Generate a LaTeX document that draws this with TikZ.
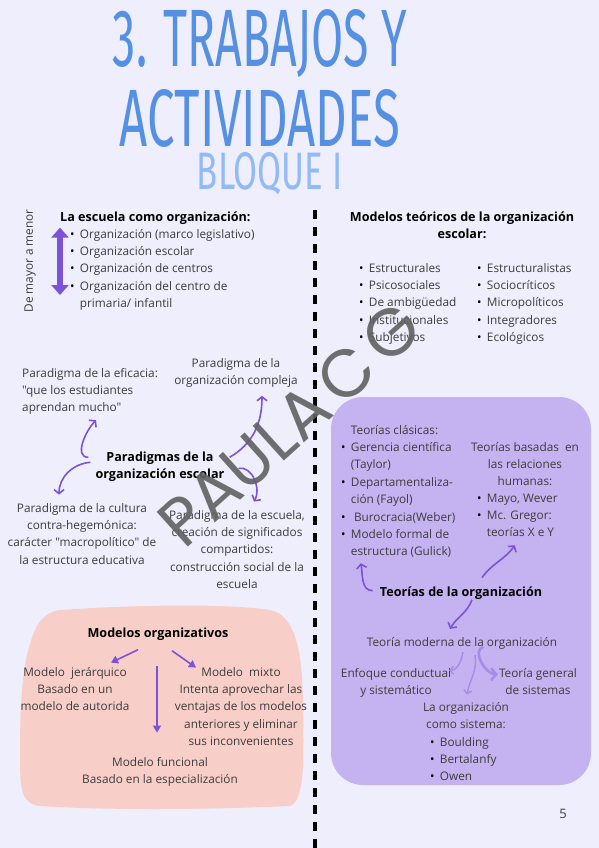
\documentclass[tikz,border=0pt]{standalone}
\usepackage{fontspec}
\setmainfont{Open Sans}[Ligatures=TeXOff]
\newfontfamily\titlefont{Fira Sans}
\newfontfamily\markfont{Poppins}
\usepackage{graphicx}
\usetikzlibrary{arrows.meta,positioning}

\definecolor{pagebg}{HTML}{EEEEFC}
\definecolor{titleblue}{HTML}{5590E3}
\definecolor{bloqueblue}{HTML}{92BBF6}
\definecolor{arrowpurple}{HTML}{7C52D8}
\definecolor{lightpurple}{HTML}{A68CE8}
\definecolor{pinkbox}{HTML}{F8CFC8}
\definecolor{lilacbox}{HTML}{C5B3F1}
\definecolor{bodygray}{HTML}{3C3C3C}

\newcommand{\bodyfont}{\fontsize{11.8}{17.4}\selectfont}
\newcommand{\headfont}{\fontsize{12.6}{17.6}\selectfont\bfseries}
\newcommand{\cblock}[1]{\begin{tabular}[t]{@{}c@{}}#1\end{tabular}}
\newcommand{\lblock}[1]{\begin{tabular}[t]{@{}l@{}}#1\end{tabular}}
\newcommand{\blist}[1]{\begin{tabular}[t]{@{}c@{\hspace{5.5pt}}l@{}}#1\end{tabular}}
\newcommand{\bu}{\textcolor{black}{\textbullet}}

\begin{document}
\begin{tikzpicture}[
    x=1pt, y=-1pt,
    >=Stealth,
    txt/.style={inner sep=0pt, text=bodygray, font=\bodyfont},
    head/.style={inner sep=0pt, text=black, font=\headfont},
    curv/.style={-{Straight Barb[length=4pt,width=10pt]}, line width=1.6pt, draw=arrowpurple},
    lcurv/.style={-{Straight Barb[length=3.5pt,width=8pt]}, line width=1.4pt, draw=lightpurple},
    arr/.style={-{Triangle[length=7pt,width=8pt]}, line width=1.6pt, draw=arrowpurple}
]
    \fill[pagebg] (0,0) rectangle (599,848);
    \useasboundingbox (0,0) rectangle (599,848);

    % title
    \node[text=titleblue] (title1) at (260,44) {\resizebox{294pt}{57pt}{\titlefont 3. TRABAJOS Y}};
    \node[text=titleblue] (title2) at (260,118) {\resizebox{280pt}{57pt}{\titlefont ACTIVIDADES}};
    \node[text=bloqueblue] (bloque) at (270,174) {\resizebox{146pt}{37pt}{\titlefont BLOQUE I}};

    % divider
    \draw[line width=3.2pt, dash pattern=on 9pt off 8pt] (315,210) -- (315,848);

    % boxes
    \fill[pinkbox] (60,610) .. controls (150,604) and (230,604) .. (270,610)
        .. controls (295,615) and (302,650) .. (303,700)
        .. controls (304,760) and (305,800) .. (290,806)
        .. controls (200,810) and (100,810) .. (40,806)
        .. controls (22,804) and (20,790) .. (20,760)
        .. controls (20,700) and (22,660) .. (35,630)
        .. controls (40,618) and (50,611) .. (60,610) -- cycle;
    \fill[lilacbox, rounded corners=32pt] (331,397) rectangle (591,785);

    % la escuela como organizacion
    \node[txt, rotate=90] (mayor) at (30,261) {De mayor a menor};
    \node[head, anchor=base west] (escuela) at (60,221) {La escuela como organización:};
    \node[txt, anchor=base west] (escList) at (69.8,238) {\blist{\bu & Organización (marco legislativo)\\
        \bu & Organización escolar\\ \bu & Organización de centros\\
        \bu & Organización del centro de\\ & primaria/ infantil}};
    \draw[{Triangle[length=10pt,width=17pt]}-{Triangle[length=10pt,width=17pt]}, line width=5.5pt, draw=arrowpurple]
        ([shift={(-9.8,2)}]escList.north west) -- ([shift={(-9.8,-18)}]escList.south west);

    % modelos teoricos
    \node[head, anchor=base] (teoricos) at (462,221) {\cblock{Modelos teóricos de la organización\\ escolar:}};
    \node[txt, anchor=base west] (teoColA) at (358.8,272) {\blist{\bu & Estructurales\\ \bu & Psicosociales\\
        \bu & De ambigüedad\\ \bu & Institucionales\\ \bu & Subjetivos}};
    \node[txt, anchor=base west] (teoColB) at (476.8,272) {\blist{\bu & Estructuralistas\\ \bu & Sociocríticos\\
        \bu & Micropolíticos\\ \bu & Integradores\\ \bu & Ecológicos}};

    % paradigmas
    \node[head, anchor=base] (paradigmas) at (160,461) {\cblock{Paradigmas de la\\ organización escolar}};
    \node[txt, anchor=base west] (eficacia) at (22,377) {\lblock{Paradigma de la eficacia:\\ "que los estudiantes\\ aprendan mucho"}};
    \node[txt, anchor=base] (compleja) at (236,367) {\cblock{Paradigma de la\\ organización compleja}};
    \node[txt, anchor=base] (cultura) at (82,512) {\cblock{Paradigma de la cultura\\ contra-hegemónica:\\
        carácter "macropolítico" de\\ la estructura educativa}};
    \node[txt, anchor=base] (signif) at (237,519) {\cblock{Paradigma de la escuela,\\ creación de significados\\
        compartidos:\\ construcción social de la\\ escuela}};

    \draw[curv] ([shift={(-7,-9)}]paradigmas.west) to[out=180, in=225] ([shift={(6,3)}]eficacia.south);
    \draw[curv] ([shift={(-5,-4)}]paradigmas.west) to[out=185, in=90] ([shift={(-23,-5)}]cultura.north);
    \draw[curv] ([shift={(5,-9)}]paradigmas.east) to[out=30, in=270] ([shift={(26,6)}]compleja.south);
    \draw[curv] ([shift={(14,2)}]paradigmas.east) to[out=10, in=60] ([shift={(17,-5)}]signif.north);

    % teorias de la organizacion
    \node[txt, anchor=base west] (clasicas) at (340.8,434) {\blist{& Teorías clásicas:\\
        \bu & Gerencia científica\\ & (Taylor)\\ \bu & Departamentaliza-\\ & ción (Fayol)\\
        \bu & \ Burocracia(Weber)\\ \bu & Modelo formal de\\ & estructura (Gulick)}};
    \node[txt, anchor=base] (relaciones) at (525,451) {\cblock{Teorías basadas~ en\\ las relaciones\\ humanas:}};
    \node[txt, anchor=base west] (relList) at (476.8,502) {\blist{\bu & Mayo, Wever\\ \bu & Mc. Gregor:\\ & teorías X e Y}};
    \node[head, anchor=base] (teorias) at (461,596) {Teorías de la organización};
    \node[txt, anchor=base] (moderna) at (462,646) {Teoría moderna de la organización};
    \node[txt, anchor=base] (conductual) at (396,677) {\cblock{Enfoque conductual\\ y sistemático}};
    \node[txt, anchor=base] (general) at (538,677) {\cblock{Teoría general\\ de sistemas}};
    \node[txt, anchor=base] (sistema) at (466,711) {\cblock{La organización\\ como sistema:}};
    \node[txt, anchor=base west] (sisList) at (429.8,746) {\blist{\bu & Boulding\\ \bu & Bertalanfy\\ \bu & Owen}};

    \draw[curv] ([shift={(-7,-2)}]teorias.west) to[out=180, in=-80] ([shift={(20,2)}]clasicas.south west);
    \draw[curv] ([shift={(21,-15)}]teorias.center) to[out=55, in=235] ([shift={(38,3)}]relList.south west);
    \draw[curv] ([shift={(11,7)}]teorias.center) to[out=-110, in=60] ([shift={(-12,-14)}]moderna.center);
    \draw[lcurv] ([shift={(1,9)}]moderna.center) to[out=-100, in=0] ([shift={(53,-12)}]conductual.center);
    \draw[lcurv] ([shift={(13,12)}]moderna.center) to[out=-80, in=80] ([shift={(1,-4)}]sistema.north);
    \draw[-{Straight Barb[length=5pt,width=12pt]}, line width=2.6pt, draw=lightpurple]
        ([shift={(21,4)}]moderna.center) to[out=200, in=180] ([shift={(-1,-8)}]general.west);

    % modelos organizativos
    \node[head, anchor=base] (modelos) at (158,637) {Modelos organizativos};
    \node[txt, anchor=base] (jerarq) at (75,676) {\cblock{Modelo~ jerárquico\\ Basado en un\\ modelo de autorida}};
    \node[txt, anchor=base] (mixto) at (241,676) {\cblock{Modelo~ mixto\\ Intenta aprovechar las\\
        ventajas de los modelos\\ anteriores y eliminar\\ sus inconvenientes}};
    \node[txt, anchor=base] (funcional) at (160,766) {\cblock{Modelo funcional\\ Basado en la especialización}};

    \draw[arr] ([shift={(-20,16)}]modelos.center) -- ([shift={(36,-1)}]jerarq.north);
    \draw[arr] ([shift={(14,17)}]modelos.center) -- ([shift={(-45,4)}]mixto.north);
    \draw[arr] ([shift={(-1,32)}]modelos.center) -- ([shift={(-3,-21)}]funcional.north);

    \node[txt, font=\fontsize{13}{15}\selectfont, anchor=base] (pagina) at (563,818) {5};

    % watermark
    \node[text=black!62, opacity=0.9, rotate=42, font=\markfont\fontsize{67}{67}\selectfont] (marca) at (290,424)
        {PAULA\hspace{0.14em}C\hspace{0.14em}G};
\end{tikzpicture}
\end{document}
